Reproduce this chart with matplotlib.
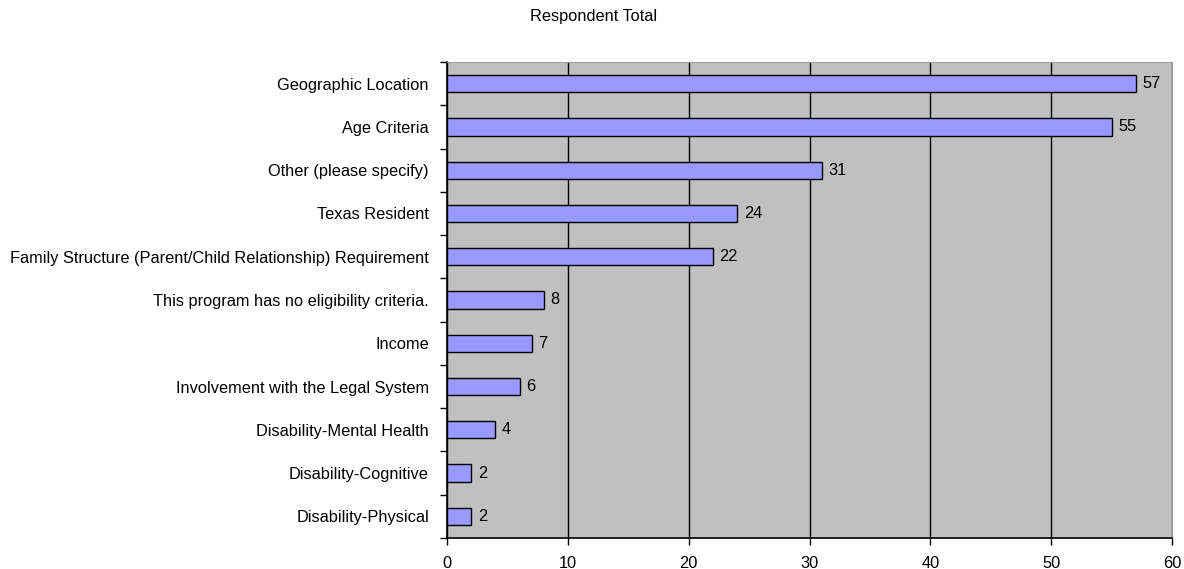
import matplotlib
matplotlib.use("Agg")
import matplotlib.pyplot as plt
import numpy as np

plt.rcParams['font.family'] = ['Liberation Sans', 'DejaVu Sans']

categories = [
    "Geographic Location",
    "Age Criteria",
    "Other (please specify)",
    "Texas Resident",
    "Family Structure (Parent/Child Relationship) Requirement",
    "This program has no eligibility criteria.",
    "Income",
    "Involvement with the Legal System",
    "Disability-Mental Health",
    "Disability-Cognitive",
    "Disability-Physical",
]
values = [57, 55, 31, 24, 22, 8, 7, 6, 4, 2, 2]
xticks = [0, 10, 20, 30, 40, 50, 60]

FS = 11.8

fig = plt.figure(figsize=(11.84, 5.69), dpi=100)
ax = fig.add_axes([447 / 1184, 1 - 538 / 569, (1172 - 447) / 1184, (538 - 62) / 569])

n = len(categories)
y = np.arange(n)
ax.set_facecolor('#c0c0c0')
ax.barh(y, values, height=0.4, color='#9999ff', edgecolor='black', linewidth=1.0, zorder=3)
for yi, v in zip(y, values):
    ax.text(v + 0.55, yi, str(v), va='center', ha='left', fontsize=FS, zorder=4)

ax.set_xlim(0, 60)
ax.set_ylim(n - 0.5, -0.5)
ax.set_xticks(xticks)
ax.set_xticklabels([str(t) for t in xticks], fontsize=FS)
ax.xaxis.grid(True, color='black', linewidth=1.0, zorder=1)
ax.set_axisbelow(True)

ax.set_yticks(y)
ax.set_yticklabels(categories, fontsize=FS)
ax.tick_params(axis='y', length=0, pad=13)
ax.set_yticks(np.arange(n + 1) - 0.5, minor=True)
ax.tick_params(axis='y', which='minor', length=5, direction='out', width=1)
ax.tick_params(axis='x', length=5, direction='out', width=1, pad=8)

for side in ['top', 'right']:
    ax.spines[side].set_color('#a0a0a0')
for side in ['left', 'bottom']:
    ax.spines[side].set_color('black')
    ax.spines[side].set_linewidth(1.2)

fig.text(594 / 1184, 1 - 17 / 569, "Respondent Total", ha='center', va='center', fontsize=FS)

fig.savefig("out.png", dpi=100)
